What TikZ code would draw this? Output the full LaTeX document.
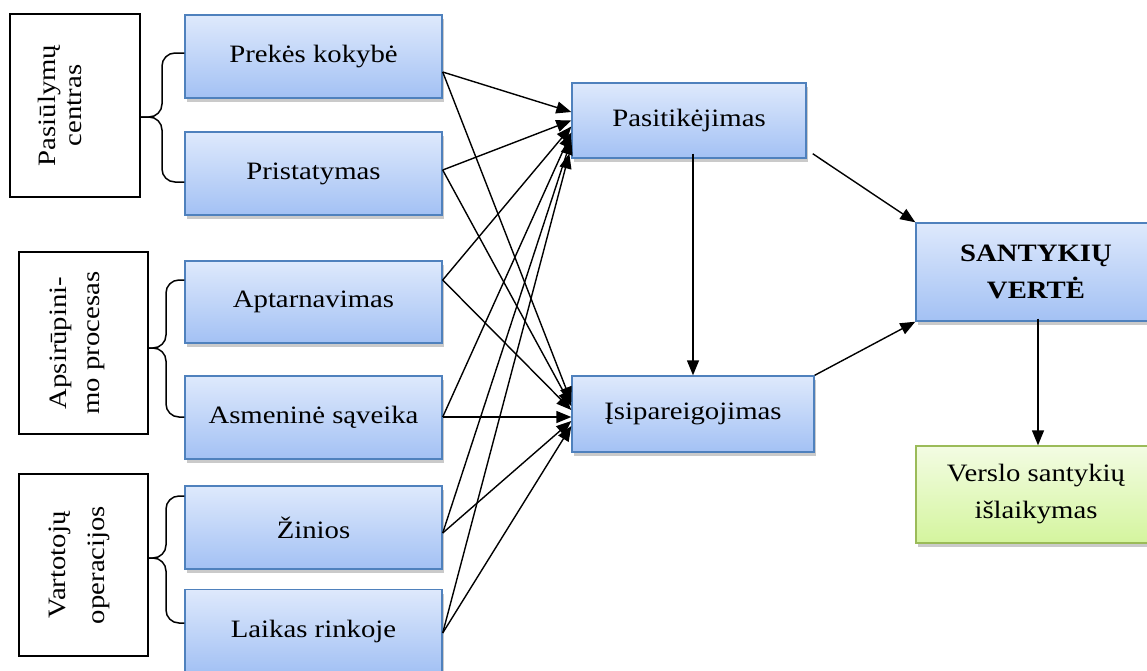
\documentclass[tikz,border=0pt]{standalone}
\usepackage{fontspec}
\setmainfont[FakeStretch=1.15]{Liberation Serif}
\usetikzlibrary{arrows.meta,calc,shadows}

\definecolor{bluetop}{HTML}{DEE9FC}
\definecolor{bluebot}{HTML}{A3C1F4}
\definecolor{blueline}{HTML}{4F81BD}
\definecolor{greentop}{HTML}{F3FCE3}
\definecolor{greenbot}{HTML}{D4F59E}
\definecolor{greenline}{HTML}{9BBB59}

\tikzset{
  boxshadow/.style={drop shadow={shadow xshift=2pt,shadow yshift=-4pt,opacity=0.35,fill=black!60}},
  boxfont/.style={font=\fontsize{25}{37}\selectfont},
  bluebox/.style={draw=blueline,line width=1.4pt,top color=bluetop,bottom color=bluebot,
    boxshadow,minimum width=#1,align=center,inner sep=2pt,boxfont},
  greenbox/.style={draw=greenline,line width=1.4pt,top color=greentop,bottom color=greenbot,
    boxshadow,align=center,inner sep=2pt,boxfont},
  groupbox/.style={draw=black,line width=1.5pt,fill=white,inner sep=0pt},
  grouplabel/.style={rotate=90,align=center,inner sep=0pt,font=\fontsize{25}{#1}\selectfont},
  arr/.style={line width=1.4pt,-{Triangle[length=15pt,width=12pt]}},
  bracket/.style={line width=1.5pt,rounded corners=13pt},
}

\begin{document}
\begin{tikzpicture}[x=1pt,y=-1pt]
\useasboundingbox (0,0) rectangle (1147,670);

% grouping boxes with rotated captions
\node[groupbox,minimum width=130,minimum height=183] (g1) at (75,105.5) {};
\node[grouplabel=26] (g1t) at (g1.center -| 60,0) {Pasiūlymų\\centras};
\node[groupbox,minimum width=129,minimum height=182] (g2) at (83.5,343) {};
\node[grouplabel=33] (g2t) at (g2.center -| 77.5,0) {Apsirūpini-\\mo procesas};
\node[groupbox,minimum width=129,minimum height=182] (g3) at (83.5,565) {};
\node[grouplabel=39] (g3t) at (g3.center -| 79,0) {Vartotojų\\operacijos};

% factor boxes
\node[bluebox=257,minimum height=83] (pk) at (313.5,56.5) {Prekės kokybė};
\node[bluebox=257,minimum height=83] (pr) at (313.5,173.5) {Pristatymas};
\node[bluebox=257,minimum height=82] (ap) at (313.5,302) {Aptarnavimas};
\node[bluebox=257,minimum height=83] (as) at (313.5,417.5) {Asmeninė sąveika};
\node[bluebox=257,minimum height=83] (zi) at (313.5,527.5) {Žinios};
\node[bluebox=257,minimum height=83] (lr) at (313.5,631) {Laikas rinkoje};

% middle and result boxes
\node[bluebox=234,minimum height=75] (pas) at (689,120.5) {Pasitikėjimas};
\node[bluebox=242,minimum height=76] (isi) at (693,414) {Įsipareigojimas};
\node[bluebox=240,minimum height=98,font=\fontsize{25}{37}\selectfont\bfseries] (sv) at (1036,272) {SANTYKIŲ\\VERTĖ};
\node[greenbox,minimum width=240,minimum height=97] (vs) at (1036,494.5) {Verslo santykių\\išlaikymas};

% braces joining groups to their factors
\draw[bracket] (pk.west |- 0,53) -| (162,117) -- (g1.east |- 0,117);
\draw[bracket] (pr.west |- 0,182) -| (162,117) -- (g1.east |- 0,117);
\draw[bracket] (ap.west |- 0,280) -| (166,348) -- (g2.east |- 0,348);
\draw[bracket] (as.west |- 0,417) -| (166,348) -- (g2.east |- 0,348);
\draw[bracket] (zi.west |- 0,496) -| (166,558) -- (g3.east |- 0,558);
\draw[bracket] (lr.west |- 0,623) -| (166,558) -- (g3.east |- 0,558);

% factors to trust
\draw[arr] (pk.east |- 0,72)  -- ($(pas.west)+(0,-8.5)$);
\draw[arr] (pr.east |- 0,170) -- ($(pas.west)+(0,0)$);
\draw[arr] (ap.east |- 0,280) -- ($(pas.west)+(0,6)$);
\draw[arr] (as.east |- 0,417) -- ($(pas.west)+(0,12)$);
\draw[arr] (zi.east |- 0,533) -- ($(pas.west)+(0,19)$);
\draw[arr] (lr.east |- 0,633) -- ($(pas.west)+(-2,33)$);

% factors to commitment
\draw[arr] (pk.east |- 0,72)  -- ($(isi.west)+(0,-12)$);
\draw[arr] (pr.east |- 0,170) -- ($(isi.west)+(0,-8)$);
\draw[arr] (ap.east |- 0,280) -- ($(isi.west)+(0,-4)$);
\draw[arr] (as.east |- 0,417) -- ($(isi.west)+(0,3)$);
\draw[arr] (zi.east |- 0,533) -- ($(isi.west)+(0,7)$);
\draw[arr] (lr.east |- 0,633) -- ($(isi.west)+(0,12)$);

% trust and commitment to relationship value
\draw[arr] ($(pas.south)+(4,-5)$) -- (isi.north);
\draw[arr] ($(pas.south east)+(6,-5)$) -- (sv.north west);
\draw[arr] (isi.north east) -- (sv.south west);
\draw[arr] ($(sv.south)+(2,-3)$) -- (vs.north -| 1038,0);
\end{tikzpicture}
\end{document}
